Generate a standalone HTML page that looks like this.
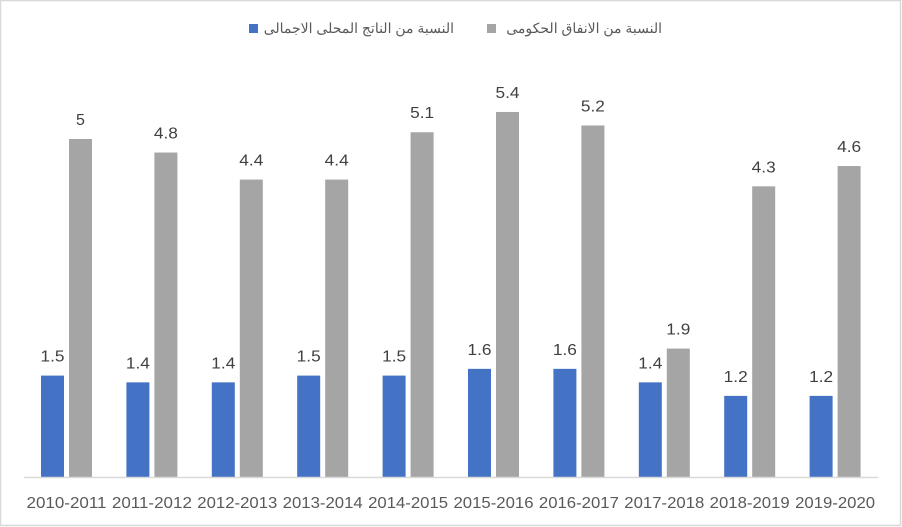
<!DOCTYPE html>
<html><head><meta charset="utf-8"><style>
body{margin:0;background:#fff}
svg{display:block}
text{font-family:"Liberation Sans","Noto Sans CJK SC",sans-serif}
</style></head><body>
<svg width="902" height="527" xmlns="http://www.w3.org/2000/svg">
<rect x="0.5" y="0.5" width="900" height="525" fill="#fff" stroke="#d9d9d9" stroke-width="1.5"/>
<rect x="249" y="24" width="9" height="9" fill="#4472c4"/>
<text x="454" y="33" font-size="14" fill="#595959" text-anchor="end">النسبة من الناتج المحلى الاجمالى</text>
<rect x="487" y="24" width="9" height="9" fill="#a5a5a5"/>
<text x="662" y="33" font-size="14" fill="#595959" text-anchor="end">النسبة من الانفاق الحكومى</text>
<g id="bars"></g>
<line x1="24" y1="477.5" x2="878" y2="477.5" stroke="#d9d9d9" stroke-width="1.5"/>
</svg>
<script>
var b=[1.5,1.4,1.4,1.5,1.5,1.6,1.6,1.4,1.2,1.2],g=[5,4.8,4.4,4.4,5.1,5.4,5.2,1.9,4.3,4.6];
var s='',k=67.6,base=477;
function lab(x,y,v){var t=String(v);var tl=t.length>1?' textLength="'+(t.length*8)+'" lengthAdjust="spacingAndGlyphs"':'';
return '<text x="'+x+'" y="'+y+'" font-size="16" fill="#404040" text-anchor="middle"'+tl+'>'+t+'</text>';}
for(var i=0;i<10;i++){var x=41+i*85.4;
var hb=b[i]*k,hg=g[i]*k;
s+='<rect x="'+x+'" y="'+(base-hb)+'" width="23" height="'+hb+'" fill="#4472c4"/>';
s+='<rect x="'+(x+28)+'" y="'+(base-hg)+'" width="23" height="'+hg+'" fill="#a5a5a5"/>';
s+=lab(x+11.5,base-hb-14,b[i]);
s+=lab(x+39.5,base-hg-14,g[i]);
s+='<text x="'+(x+25.5)+'" y="508" font-size="16" fill="#595959" text-anchor="middle" textLength="80" lengthAdjust="spacingAndGlyphs">'+(2010+i)+'-'+(2011+i)+'</text>';}
document.getElementById('bars').innerHTML=s;
</script>
</body></html>
